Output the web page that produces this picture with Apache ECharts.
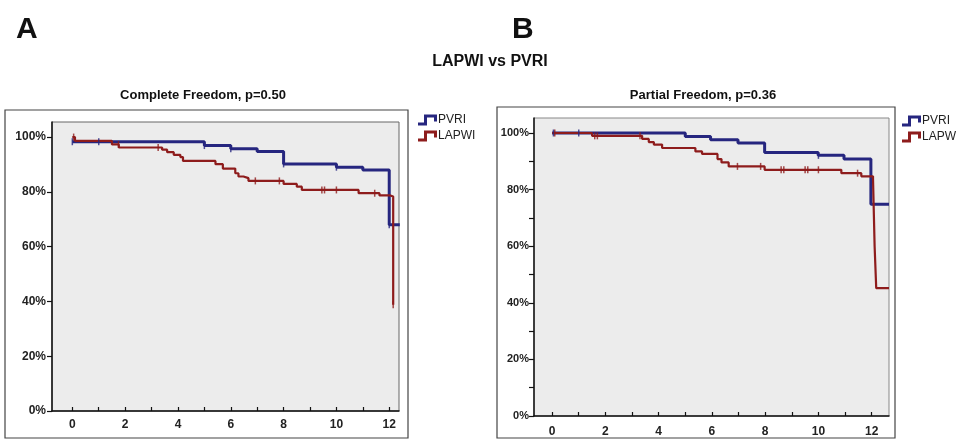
<!DOCTYPE html>
<html>
<head>
<meta charset="utf-8">
<script src="https://cdn.jsdelivr.net/npm/echarts@6/dist/echarts.min.js"></script>
<style>
html,body{margin:0;padding:0;background:#fff;}
#chart{width:956px;height:439px;}
</style>
</head>
<body>
<div id="chart"></div>
<script>
// ---- Data (time in years, survival in %) ----
const completePVRI = [[0,98.3],[5.0,96.9],[6.0,95.7],[7.0,94.7],[8.0,90.2],[10.0,89.0],[11.0,88.0],[12.0,68.0],[12.4,68.0]];
const completeLAPWI = [[0,100],[0.1,98.6],[1.5,97.3],[1.76,96.2],[3.40,95.4],[3.59,94.5],[3.84,93.5],[4.09,92.7],[4.19,91.3],[5.42,90.1],[5.70,88.5],[6.17,86.8],[6.29,85.6],[6.48,85.0],[6.67,84.0],[8.0,82.9],[8.5,81.9],[8.69,80.7],[10.84,79.5],[11.63,78.7],[12.04,78.3],[12.15,38.8]];
const completePVRICensor = [0,1.0,5.0,6.0,8.0,10.0,12.0];
const completeLAPWICensor = [0.05,1.75,3.25,6.93,7.84,9.45,9.55,10.0,11.45,12.15];

const partialPVRI = [[0,100],[5.0,98.8],[5.95,97.6],[6.98,96.5],[7.98,93.1],[9.99,92.1],[10.96,90.8],[11.97,74.8],[12.65,74.8]];
const partialLAPWI = [[0,100],[1.5,99.0],[3.38,97.9],[3.63,96.8],[3.82,95.9],[4.13,94.7],[5.38,93.5],[5.63,92.6],[6.21,90.8],[6.36,89.6],[6.63,88.2],[7.98,87.0],[10.86,85.8],[11.61,84.7],[12.05,83.8],[12.11,60.0],[12.17,45.2],[12.65,45.2]];
const partialPVRICensor = [0.05,1.0,10.0];
const partialLAPWICensor = [0.1,1.6,1.7,3.3,6.96,7.83,8.6,8.7,9.5,9.6,10.0,11.47];

const xTickValues = [0,1,2,3,4,5,6,7,8,9,10,11,12];
const xLabelValues = [0,2,4,6,8,10,12];
const yLabelValues = [0,20,40,60,80,100];
const yMinorTickValues = [0,10,20,30,40,50,60,70,80,90,100];
const seriesNames = ['PVRI','LAPWI'];
const panelTitles = ['Complete Freedom, p=0.50','Partial Freedom, p=0.36'];
const mainTitle = 'LAPWI vs PVRI';
const panelLetters = ['A','B'];

// ---- helpers ----
function survAt(curve, t){
  let v = curve[0][1];
  for (const p of curve){ if (p[0] <= t) v = p[1]; else break; }
  return v;
}
function censor(curve, times){ return times.map(t => [t, survAt(curve, t)]); }

const BLUE = '#26267f';
const RED = '#8e1c1c';
const ICON = 'path://M0,8L6,8L6,0L19,0L19,7L16,7L16,3L9,3L9,11L0,11Z';
const labelFont = {fontFamily:'Liberation Sans, Arial, sans-serif', fontWeight:'bold', color:'#222'};

function xAxisCfg(gi, min, max, margin){
  return {type:'value', gridIndex:gi, min:min, max:max,
    axisLine:{show:true, onZero:false, lineStyle:{color:'#111', width:1.5}},
    axisTick:{show:true, inside:true, length:4, customValues:xTickValues, lineStyle:{color:'#111', width:1.2}},
    axisLabel:Object.assign({customValues:xLabelValues, fontSize:12, margin:margin}, labelFont),
    splitLine:{show:false}};
}
function yAxisCfg(gi, max, ticks, fs, margin){
  return {type:'value', gridIndex:gi, min:0, max:max,
    axisLine:{show:true, onZero:false, lineStyle:{color:'#111', width:1.5}},
    axisTick:{show:true, inside:false, length:5, customValues:ticks, lineStyle:{color:'#111', width:1.2}},
    axisLabel:Object.assign({customValues:yLabelValues, fontSize:fs, margin:margin, formatter:v => v + '%'}, labelFont),
    splitLine:{show:false}};
}
function lineSeries(name, data, gi, color, width){
  return {name:name, type:'line', step:'end', xAxisIndex:gi, yAxisIndex:gi, data:data,
    showSymbol:false, symbol:'none', color:color, lineStyle:{color:color, width:width}, animation:false, z:width>2.5?2:3};
}
function censorSeries(name, data, gi, color){
  return {name:name, type:'scatter', xAxisIndex:gi, yAxisIndex:gi, data:data,
    symbol:'rect', symbolSize:[1.5,7], itemStyle:{color:color}, animation:false, z:4, silent:true};
}

const chart = echarts.init(document.getElementById('chart'), null, {renderer:'canvas'});
chart.setOption({
  backgroundColor:'#fff',
  animation:false,
  title:[
    {text:panelLetters[0], left:11, top:10, textStyle:{fontFamily:'Liberation Sans, Arial', fontWeight:'bold', fontSize:30, color:'#111'}},
    {text:panelLetters[1], left:507, top:10, textStyle:{fontFamily:'Liberation Sans, Arial', fontWeight:'bold', fontSize:30, color:'#111'}},
    {text:mainTitle, left:485, top:49, textAlign:'center', textStyle:{fontFamily:'Liberation Sans Narrow, Arial Narrow, sans-serif', fontWeight:'bold', fontSize:16, color:'#111'}},
    {text:panelTitles[0], left:198, top:84, textAlign:'center', textStyle:{fontFamily:'Liberation Sans Narrow, Arial Narrow, sans-serif', fontWeight:'bold', fontSize:13, color:'#111'}},
    {text:panelTitles[1], left:698, top:84, textAlign:'center', textStyle:{fontFamily:'Liberation Sans Narrow, Arial Narrow, sans-serif', fontWeight:'bold', fontSize:13, color:'#111'}}
  ],
  graphic:[
    {type:'rect', shape:{x:5, y:110, width:403, height:328}, style:{fill:'none', stroke:'#444', lineWidth:1.2}, z:-10},
    {type:'rect', shape:{x:497, y:107, width:398, height:331}, style:{fill:'none', stroke:'#444', lineWidth:1.2}, z:-10}
  ],
  legend:[
    {data:seriesNames, orient:'vertical', left:413, top:109, itemGap:4, itemWidth:19, itemHeight:11, icon:ICON,
      textStyle:{fontFamily:'Liberation Sans, Arial', fontSize:12, color:'#222', padding:[0,0,0,-4]}},
    {data:seriesNames, orient:'vertical', left:897, top:110, itemGap:4, itemWidth:19, itemHeight:11, icon:ICON,
      textStyle:{fontFamily:'Liberation Sans, Arial', fontSize:12, color:'#222', padding:[0,0,0,-4]}}
  ],
  grid:[
    {left:52, top:122, width:347, height:289, show:true, backgroundColor:'#ececec', borderColor:'#666', borderWidth:1},
    {left:534, top:118, width:355, height:298, show:true, backgroundColor:'#ececec', borderColor:'#888', borderWidth:1}
  ],
  xAxis:[xAxisCfg(0, -0.77, 12.37, 8), xAxisCfg(1, -0.68, 12.65, 10)],
  yAxis:[yAxisCfg(0, 105.5, yLabelValues, 12, 6), yAxisCfg(1, 105.3, yMinorTickValues, 11, 5)],
  series:[
    lineSeries(seriesNames[0], completePVRI, 0, BLUE, 3),
    lineSeries(seriesNames[1], completeLAPWI, 0, RED, 2.2),
    censorSeries('c1', censor(completePVRI, completePVRICensor), 0, BLUE),
    censorSeries('c2', censor(completeLAPWI, completeLAPWICensor), 0, RED),
    lineSeries(seriesNames[0], partialPVRI, 1, BLUE, 3),
    lineSeries(seriesNames[1], partialLAPWI, 1, RED, 2.2),
    censorSeries('c3', censor(partialPVRI, partialPVRICensor), 1, BLUE),
    censorSeries('c4', censor(partialLAPWI, partialLAPWICensor), 1, RED)
  ]
});
</script>
</body>
</html>
